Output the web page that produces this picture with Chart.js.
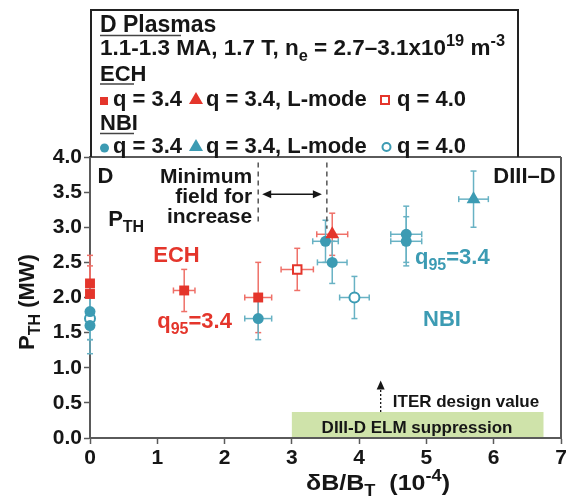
<!DOCTYPE html>
<html>
<head>
<meta charset="utf-8">
<script src="https://cdn.jsdelivr.net/npm/chart.js@4.4.0/dist/chart.umd.min.js"></script>
<style>
  html, body { margin: 0; padding: 0; background: #fff; }
  #wrap { width: 571px; height: 502px; }
</style>
</head>
<body>
<div id="wrap"><canvas id="chart" width="571" height="502"></canvas></div>
<script>
// ===== DATA =====
const xTicks = [0, 1, 2, 3, 4, 5, 6, 7];
const yTicks = [0, 0.5, 1, 1.5, 2, 2.5, 3, 3.5, 4];

// ECH, q95 = 3.4 (H-mode threshold)
const echQ34X = [0, 0, 1.4, 2.5];
const echQ34Y = [2.2, 2.05, 2.1, 2.0];
const echQ34Xerr = [0, 0, 0.16, 0.2];
const echQ34Yerr = [0.4, 0.4, 0.3, 0.5];

// ECH, q95 = 3.4, L-mode
const echLX = [3.6];
const echLY = [2.9];
const echLXerr = [0.23];
const echLYerr = [0.3];

// ECH, q95 = 4.0
const echQ40X = [3.08];
const echQ40Y = [2.4];
const echQ40Xerr = [0.24];
const echQ40Yerr = [0.3];

// NBI, q95 = 3.4
const nbiQ34X = [0, 0, 2.5, 3.5, 3.6, 4.7, 4.7];
const nbiQ34Y = [1.8, 1.6, 1.7, 2.8, 2.5, 2.9, 2.8];
const nbiQ34Xerr = [0, 0, 0.2, 0.19, 0.22, 0.23, 0.23];
const nbiQ34Yerr = [0.4, 0.4, 0.3, 0.3, 0.3, 0.4, 0.35];

// NBI, q95 = 3.4, L-mode
const nbiLX = [5.7];
const nbiLY = [3.4];
const nbiLXerr = [0.22];
const nbiLYerr = [0.4];

// NBI, q95 = 4.0
const nbiQ40X = [0, 3.93];
const nbiQ40Y = [1.7, 2.0];
const nbiQ40Xerr = [0, 0.22];
const nbiQ40Yerr = [0.3, 0.3];

// ELM suppression window and ITER value
const elmBand = [3.0, 6.74];
const elmBandTop = 0.37;
const iterValue = 4.32;
const minFieldRange = [2.5, 3.52];

// ===== STYLE =====
const RED = '#e4352b';
const RED_ERR = '#ef7068';
const TEAL = '#3c9bb3';
const TEAL_ERR = '#68b2c4';
const INK = '#161616';
const AXIS = '#5a5a5a';
const FAM = '"Liberation Sans", Arial, sans-serif';

function series(label, xs, ys, xe, ye, extra) {
  return Object.assign({
    label,
    data: xs.map((x, i) => ({ x, y: ys[i], xerr: xe[i], yerr: ye[i] })),
    clip: false,
    borderWidth: 0
  }, extra);
}

// ===== TEXT HELPER =====
// parts: [text, 'n' | 'sub' | 'sup']
function rich(ctx, parts, x, y, size, color, align, fitW) {
  const fontFor = k => `bold ${k === 'n' ? size : Math.round(size * 0.72)}px ${FAM}`;
  let w = 0;
  parts.forEach(p => { ctx.font = fontFor(p[1]); w += ctx.measureText(p[0]).width; });
  const sx = fitW ? fitW / w : 1;
  const x0 = align === 'right' ? x - w * sx : align === 'center' ? x - w * sx / 2 : x;
  ctx.save();
  ctx.translate(x0, y);
  ctx.scale(sx, 1);
  ctx.fillStyle = color;
  ctx.textAlign = 'left';
  ctx.textBaseline = 'alphabetic';
  let cx = 0;
  parts.forEach(p => {
    ctx.font = fontFor(p[1]);
    const dy = p[1] === 'sub' ? size * 0.28 : p[1] === 'sup' ? -size * 0.42 : 0;
    ctx.fillText(p[0], cx, dy);
    cx += ctx.measureText(p[0]).width;
  });
  ctx.restore();
  return w * sx;
}

function line(ctx, x1, y1, x2, y2, color, width, dash) {
  ctx.save();
  ctx.strokeStyle = color;
  ctx.lineWidth = width;
  ctx.setLineDash(dash || []);
  ctx.beginPath();
  ctx.moveTo(x1, y1);
  ctx.lineTo(x2, y2);
  ctx.stroke();
  ctx.restore();
}

function arrowHead(ctx, x, y, dir, color) {
  // dir: 'left' | 'right' | 'up'
  ctx.save();
  ctx.fillStyle = color;
  ctx.beginPath();
  if (dir === 'left') { ctx.moveTo(x, y); ctx.lineTo(x + 9, y - 4); ctx.lineTo(x + 9, y + 4); }
  if (dir === 'right') { ctx.moveTo(x, y); ctx.lineTo(x - 9, y - 4); ctx.lineTo(x - 9, y + 4); }
  if (dir === 'up') { ctx.moveTo(x, y); ctx.lineTo(x - 4, y + 9); ctx.lineTo(x + 4, y + 9); }
  ctx.closePath();
  ctx.fill();
  ctx.restore();
}

// ===== PLUGINS =====
const background = {
  id: 'background',
  beforeDraw(chart) {
    const { ctx, scales: { x, y } } = chart;
    ctx.save();
    ctx.fillStyle = '#fff';
    ctx.fillRect(0, 0, chart.width, chart.height);
    ctx.fillStyle = '#cfe3aa';
    const l = x.getPixelForValue(elmBand[0]), r = x.getPixelForValue(elmBand[1]);
    const t = y.getPixelForValue(elmBandTop), b = y.getPixelForValue(0);
    ctx.fillRect(l, t, r - l, b - t);
    ctx.restore();
  }
};

const errorBars = {
  id: 'errorBars',
  beforeDatasetsDraw(chart) {
    const { ctx, scales: { x, y } } = chart;
    const cap = 3;
    chart.data.datasets.forEach((ds, di) => {
      const col = ds.errColor;
      ds.data.forEach(d => {
        const px = x.getPixelForValue(d.x), py = y.getPixelForValue(d.y);
        if (d.yerr) {
          const t = y.getPixelForValue(d.y + d.yerr), b = y.getPixelForValue(d.y - d.yerr);
          line(ctx, px, t, px, b, col, 1.5);
          line(ctx, px - cap, t, px + cap, t, col, 1.5);
          line(ctx, px - cap, b, px + cap, b, col, 1.5);
        }
        if (d.xerr) {
          const l = x.getPixelForValue(d.x - d.xerr), r = x.getPixelForValue(d.x + d.xerr);
          line(ctx, l, py, r, py, col, 1.5);
          line(ctx, l, py - cap, l, py + cap, col, 1.5);
          line(ctx, r, py - cap, r, py + cap, col, 1.5);
        }
      });
    });
  }
};

const decorations = {
  id: 'decorations',
  beforeDatasetsDraw(chart) {
    const { ctx, scales: { x, y } } = chart;
    // minimum field markers
    const top = y.getPixelForValue(3.92);
    line(ctx, x.getPixelForValue(minFieldRange[0]), top, x.getPixelForValue(minFieldRange[0]), y.getPixelForValue(3.07), '#555', 1.5, [5, 4]);
    line(ctx, x.getPixelForValue(minFieldRange[1]), top, x.getPixelForValue(minFieldRange[1]), y.getPixelForValue(2.98), '#555', 1.5, [5, 4]);
    const ay = y.getPixelForValue(3.47);
    const al = x.getPixelForValue(minFieldRange[0]) + 4, ar = x.getPixelForValue(minFieldRange[1]) - 5;
    line(ctx, al + 4, ay, ar - 4, ay, INK, 1.3);
    arrowHead(ctx, al, ay, 'left', INK);
    arrowHead(ctx, ar, ay, 'right', INK);
    // ITER design value
    const ix = x.getPixelForValue(iterValue);
    line(ctx, ix, y.getPixelForValue(elmBandTop), ix, y.getPixelForValue(0.82) + 8, INK, 1.3, [2, 2]);
    arrowHead(ctx, ix, y.getPixelForValue(0.82), 'up', INK);
  },
  afterDraw(chart) {
    const { ctx, chartArea: ca, scales: { x, y } } = chart;
    const X = v => x.getPixelForValue(v), Y = v => y.getPixelForValue(v);

    // plot frame (top + right)
    line(ctx, ca.left, ca.top, ca.right, ca.top, AXIS, 2);
    line(ctx, ca.right, ca.top, ca.right, ca.bottom, AXIS, 2);

    // legend box
    const bl = ca.left + 1, bt = 10, br = 518;
    line(ctx, bl - 1, bt, br + 1, bt, '#222', 2);
    line(ctx, bl, bt, bl, ca.top, '#222', 2);
    line(ctx, br, bt, br, ca.top, '#222', 2);

    rich(ctx, [['D Plasmas', 'n']], 100, 32, 23, INK, 'left');
    line(ctx, 100, 35.5, 181, 35.5, '#444', 1.5);
    rich(ctx, [['1.1-1.3 MA, 1.7 T, n', 'n'], ['e', 'sub'], [' = 2.7\u20133.1x10', 'n'], ['19', 'sup'], [' m', 'n'], ['-3', 'sup']], 100, 55, 22, INK, 'left', 405);
    rich(ctx, [['ECH', 'n']], 100, 81, 22, INK, 'left');
    line(ctx, 100, 84, 134, 84, '#444', 1.5);
    rich(ctx, [['NBI', 'n']], 100, 130, 22, INK, 'left');
    line(ctx, 100, 133.5, 134, 133.5, '#444', 1.5);

    const rowY = [106, 153];
    const rowCol = [RED, TEAL];
    rowY.forEach((by, i) => {
      const c = rowCol[i];
      ctx.save();
      ctx.fillStyle = c;
      ctx.strokeStyle = c;
      ctx.lineWidth = 2;
      // filled marker
      if (i === 0) ctx.fillRect(100, by - 9, 8, 8);
      else { ctx.beginPath(); ctx.arc(104.5, by - 5, 4.5, 0, Math.PI * 2); ctx.fill(); }
      // triangle
      ctx.beginPath();
      ctx.moveTo(196, by - 14); ctx.lineTo(203, by - 2); ctx.lineTo(189, by - 2); ctx.closePath(); ctx.fill();
      // open marker
      if (i === 0) ctx.strokeRect(381, by - 10, 8, 8);
      else { ctx.beginPath(); ctx.arc(386.5, by - 6, 4, 0, Math.PI * 2); ctx.stroke(); }
      ctx.restore();
      rich(ctx, [['q = 3.4', 'n']], 113, by, 22, INK, 'left');
      rich(ctx, [['q = 3.4, L-mode', 'n']], 206, by, 22, INK, 'left');
      rich(ctx, [['q = 4.0', 'n']], 397, by, 22, INK, 'left');
    });

    // annotations inside the plot
    rich(ctx, [['D', 'n']], X(0.11), Y(3.63), 22, INK, 'left');
    rich(ctx, [['Minimum', 'n']], X(2.41), Y(3.63), 21, INK, 'right');
    rich(ctx, [['field for', 'n']], X(2.41), Y(3.35), 21, INK, 'right');
    rich(ctx, [['increase', 'n']], X(2.41), Y(3.06), 21, INK, 'right');
    rich(ctx, [['P', 'n'], ['TH', 'sub']], X(0.27), Y(3.02), 22, INK, 'left');
    rich(ctx, [['DIII\u2013D', 'n']], X(6.92), Y(3.63), 22, INK, 'right');
    rich(ctx, [['ECH', 'n']], X(0.94), Y(2.5), 22, RED, 'left');
    rich(ctx, [['q', 'n'], ['95', 'sub'], ['=3.4', 'n']], X(1.0), Y(1.57), 22, RED, 'left');
    rich(ctx, [['q', 'n'], ['95', 'sub'], ['=3.4', 'n']], X(4.83), Y(2.48), 22, TEAL, 'left');
    rich(ctx, [['NBI', 'n']], X(4.95), Y(1.6), 22, TEAL, 'left');
    rich(ctx, [['DIII-D ELM suppression', 'n']], X(4.86), Y(0.07), 17, INK, 'center');
    rich(ctx, [['ITER design value', 'n']], X(4.5), Y(0.44), 17, INK, 'left');

    // axis titles
    ctx.save();
    ctx.translate(34, 302);
    ctx.rotate(-Math.PI / 2);
    rich(ctx, [['P', 'n'], ['TH', 'sub'], [' (MW)', 'n']], 0, 0, 22, INK, 'center');
    ctx.restore();
    rich(ctx, [['\u03b4B/B', 'n'], ['T', 'sub'], ['  (10', 'n'], ['-4', 'sup'], [')', 'n']], 306, 490, 22, INK, 'left', 144);
  }
};

// ===== CHART =====
const tickFont = { family: FAM, size: 21, weight: 'bold' };

new Chart(document.getElementById('chart'), {
  type: 'scatter',
  data: {
    datasets: [
      series('ECH q=3.4', echQ34X, echQ34Y, echQ34Xerr, echQ34Yerr,
        { pointStyle: 'rect', pointRadius: 7, backgroundColor: RED, borderColor: RED, errColor: RED_ERR }),
      series('ECH q=3.4 L-mode', echLX, echLY, echLXerr, echLYerr,
        { pointStyle: 'triangle', pointRadius: 8, backgroundColor: RED, borderColor: RED, errColor: RED_ERR }),
      series('ECH q=4.0', echQ40X, echQ40Y, echQ40Xerr, echQ40Yerr,
        { pointStyle: 'rect', pointRadius: 6, backgroundColor: '#fff', borderColor: RED, borderWidth: 2, errColor: RED_ERR }),
      series('NBI q=3.4', nbiQ34X, nbiQ34Y, nbiQ34Xerr, nbiQ34Yerr,
        { pointStyle: 'circle', pointRadius: 5.5, backgroundColor: TEAL, borderColor: TEAL, errColor: TEAL_ERR }),
      series('NBI q=3.4 L-mode', nbiLX, nbiLY, nbiLXerr, nbiLYerr,
        { pointStyle: 'triangle', pointRadius: 8, backgroundColor: TEAL, borderColor: TEAL, errColor: TEAL_ERR }),
      series('NBI q=4.0', nbiQ40X, nbiQ40Y, nbiQ40Xerr, nbiQ40Yerr,
        { pointStyle: 'circle', pointRadius: 5, backgroundColor: '#fff', borderColor: TEAL, borderWidth: 2, errColor: TEAL_ERR })
    ]
  },
  options: {
    responsive: false,
    animation: false,
    events: [],
    layout: { padding: { left: 0, right: 10, top: 157, bottom: 0 } },
    plugins: { legend: { display: false }, tooltip: { enabled: false } },
    scales: {
      x: {
        type: 'linear', min: 0, max: 7,
        afterBuildTicks: s => { s.ticks = xTicks.map(v => ({ value: v })); },
        afterFit: s => { s.height = 64; },
        ticks: { font: tickFont, color: INK, padding: 2, maxRotation: 0, callback: v => String(v) },
        grid: { drawOnChartArea: false, tickLength: 6, tickColor: AXIS, tickWidth: 1.5 },
        border: { display: true, color: AXIS, width: 2 }
      },
      y: {
        type: 'linear', min: 0, max: 4,
        afterBuildTicks: s => { s.ticks = yTicks.map(v => ({ value: v })); },
        afterFit: s => { s.width = 90; },
        ticks: { font: tickFont, color: INK, padding: 2, callback: v => v.toFixed(1) },
        grid: { drawOnChartArea: false, tickLength: 6, tickColor: AXIS, tickWidth: 1.5 },
        border: { display: true, color: AXIS, width: 2 }
      }
    }
  },
  plugins: [background, errorBars, decorations]
});
</script>
</body>
</html>
